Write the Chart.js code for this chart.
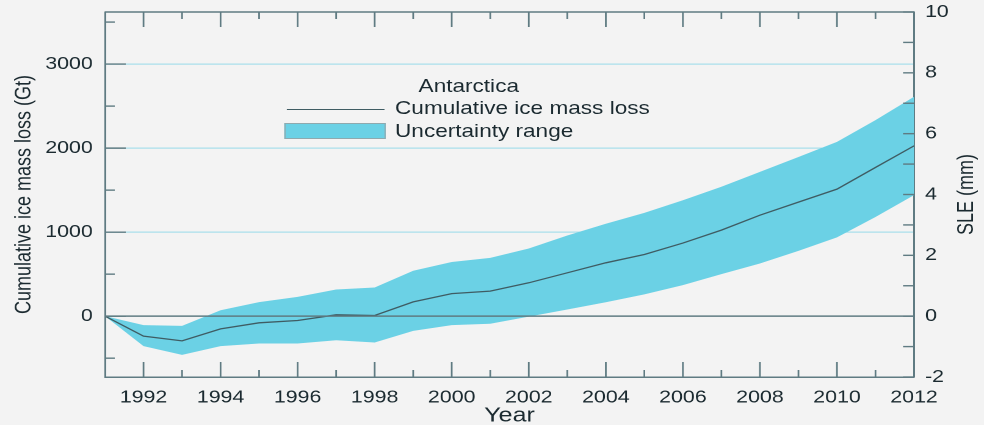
<!DOCTYPE html>
<html><head><meta charset="utf-8">
<script src="https://cdn.jsdelivr.net/npm/chart.js@4.4.1/dist/chart.umd.min.js"></script>
<style>
html,body{margin:0;padding:0;background:#f3f3f3;width:984px;height:425px;overflow:hidden}
#wrap{position:absolute;left:0;top:0;width:806px;height:425px;transform:scaleX(1.2208);transform-origin:0 0}
#c{position:absolute;left:0;top:0}
.lg{position:absolute;font-family:'Liberation Sans',Arial,sans-serif;font-size:18.5px;line-height:1;color:#1b2a30;white-space:nowrap}
</style></head><body>
<div id="wrap">
<canvas id="c" width="806" height="425"></canvas>
<div class="lg" id="lgTitle" style="left:384px;top:77px;transform:translateX(-50%)"></div>
<div id="lgLine" style="position:absolute;left:235px;top:108.6px;width:80px;height:1.4px;background:#3f5c63"></div>
<div class="lg" id="lgLineText" style="left:323.6px;top:99px"></div>
<div id="lgBox" style="position:absolute;left:232.6px;top:123.3px;width:81px;height:13.5px;background:#6bd1e5;border:1px solid #8fa9ae"></div>
<div class="lg" id="lgBoxText" style="left:323.6px;top:121.8px"></div>
</div>
<script>
// ---- data ----
const years = [1991,1992,1993,1994,1995,1996,1997,1998,1999,2000,2001,2002,2003,2004,2005,2006,2007,2008,2009,2010,2011,2012];
const massLoss = [0,-238,-294,-151,-79,-52,16,8,170,268,298,397,516,635,734,870,1024,1202,1357,1512,1770,2027];
const upperBound = [0,-107,-115,71,167,230,317,341,540,645,694,806,960,1100,1230,1380,1540,1718,1895,2075,2333,2611];
const lowerBound = [0,-357,-460,-357,-325,-325,-286,-313,-175,-107,-90,-5,80,165,260,369,500,627,777,937,1180,1440];
const xTicks = [1992,1994,1996,1998,2000,2002,2004,2006,2008,2010,2012];
const xMinor = [1993,1995,1997,1999,2001,2003,2005,2007,2009,2011];
const gtTicks = [0,1000,2000,3000];
const gtMinor = [-500,500,1500,2500,3500];
const sleTicks = [-2,0,2,4,6,8,10];
const sleMinor = [-1,1,3,5,7,9];
const legendTitle = 'Antarctica';
const lineLabel = 'Cumulative ice mass loss';
const bandLabel = 'Uncertainty range';
const xTitle = 'Year';
const yTitle = 'Cumulative ice mass loss (Gt)';
const y2Title = 'SLE (mm)';
const GT_PER_MM = 362;

// ---- styles ----
const AXIS = '#5f7b82', GRID = '#a9dfeb', FILL = '#6bd1e5', LINE = '#3f5c63', TEXT = '#1b2a30';
const FONT = "'Liberation Sans', Arial, sans-serif";

document.getElementById('lgTitle').textContent = legendTitle;
document.getElementById('lgLineText').textContent = lineLabel;
document.getElementById('lgBoxText').textContent = bandLabel;

Chart.defaults.font.family = FONT;
Chart.defaults.color = TEXT;

const pts = arr => years.map((y, i) => ({x: y, y: arr[i]}));
const noPad = s => { s.paddingTop = 0; s.paddingBottom = 0; s.paddingLeft = 0; s.paddingRight = 0; };

const decor = {
  id: 'decor',
  afterDatasetsDraw(chart) {
    const {ctx, chartArea: a, scales} = chart;
    ctx.save();
    ctx.strokeStyle = AXIS;
    ctx.lineWidth = 1.5;
    const zy = scales.y.getPixelForValue(0);
    ctx.beginPath(); ctx.moveTo(a.left, zy); ctx.lineTo(a.right, zy); ctx.stroke();
    ctx.restore();
  },
  afterDraw(chart) {
    const {ctx, chartArea: a, scales} = chart;
    ctx.save();
    ctx.strokeStyle = AXIS;
    ctx.lineWidth = 1.5;
    ctx.beginPath(); ctx.moveTo(a.left, a.top); ctx.lineTo(a.right, a.top); ctx.stroke();
    const x = scales.x;
    ctx.lineWidth = 1.4;
    const vt = (vals, len) => vals.forEach(v => {
      const px = x.getPixelForValue(v);
      ctx.beginPath();
      ctx.moveTo(px, a.bottom); ctx.lineTo(px, a.bottom - len);
      ctx.moveTo(px, a.top); ctx.lineTo(px, a.top + len);
      ctx.stroke();
    });
    vt(xTicks, 15); vt(xMinor, 7);
    ctx.lineWidth = 1.4;
    const ht = (sc, vals, len, left) => vals.forEach(v => {
      const py = sc.getPixelForValue(v);
      ctx.beginPath();
      if (left) { ctx.moveTo(a.left, py); ctx.lineTo(a.left + len, py); }
      else { ctx.moveTo(a.right, py); ctx.lineTo(a.right - len, py); }
      ctx.stroke();
    });
    ht(scales.y, gtTicks, 17, true); ht(scales.y, gtMinor, 8, true);
    ht(scales.y2, sleTicks, 9, false); ht(scales.y2, sleMinor, 9, false);
    // right axis title, reading bottom to top
    ctx.fillStyle = TEXT;
    ctx.font = '18px ' + FONT;
    ctx.textAlign = 'center';
    ctx.textBaseline = 'middle';
    ctx.translate(792, (a.top + a.bottom) / 2);
    ctx.rotate(-Math.PI / 2);
    ctx.fillText(y2Title, 0, 0);
    ctx.restore();
  }
};

new Chart(document.getElementById('c'), {
  type: 'line',
  data: {
    datasets: [
      {label: lineLabel, data: pts(massLoss), borderColor: LINE, borderWidth: 1.3, pointRadius: 0, tension: 0, fill: false},
      {label: 'upper', data: pts(upperBound), borderWidth: 0, borderColor: FILL, backgroundColor: FILL, pointRadius: 0, tension: 0, fill: '+1'},
      {label: 'lower', data: pts(lowerBound), borderWidth: 0, borderColor: FILL, backgroundColor: FILL, pointRadius: 0, tension: 0, fill: false}
    ]
  },
  options: {
    responsive: false,
    animation: false,
    devicePixelRatio: 2,
    layout: {padding: {top: 12, left: 0, right: 0, bottom: 0}},
    plugins: {legend: {display: false}, tooltip: {enabled: false}},
    scales: {
      x: {
        type: 'linear', position: 'bottom', min: 1991, max: 2012,
        afterBuildTicks: s => { s.ticks = xTicks.map(v => ({value: v})); },
        afterFit: s => { s.height = 48; noPad(s); },
        grid: {display: false, drawTicks: false},
        border: {display: true, color: AXIS, width: 1.5},
        ticks: {color: TEXT, font: {size: 17.5}, padding: 10, maxRotation: 0, autoSkip: false, callback: v => String(v)},
        title: {display: true, text: xTitle, color: TEXT, font: {size: 20.5, lineHeight: 1}, padding: {top: 0, bottom: -1}}
      },
      y: {
        position: 'left', min: -2 * GT_PER_MM, max: 10 * GT_PER_MM,
        afterBuildTicks: s => { s.ticks = gtTicks.map(v => ({value: v})); },
        afterFit: s => { s.width = 86; noPad(s); },
        grid: {color: c => (c.tick && c.tick.value === 0) ? 'rgba(0,0,0,0)' : GRID, lineWidth: 1.3, drawTicks: false},
        border: {display: true, color: AXIS, width: 1.5},
        ticks: {color: TEXT, font: {size: 17.5}, padding: 10, callback: v => String(v)},
        title: {display: true, text: yTitle, color: TEXT, font: {size: 18}, padding: {top: 9, bottom: 0}}
      },
      y2: {
        position: 'right', min: -2, max: 10,
        afterBuildTicks: s => { s.ticks = sleTicks.map(v => ({value: v})); },
        afterFit: s => { s.width = 57.3; noPad(s); },
        grid: {display: false, drawTicks: false},
        border: {display: true, color: AXIS, width: 1.5},
        ticks: {color: TEXT, font: {size: 17.5}, padding: 9, callback: v => String(v)}
      }
    }
  },
  plugins: [decor]
});
</script>
</body></html>
